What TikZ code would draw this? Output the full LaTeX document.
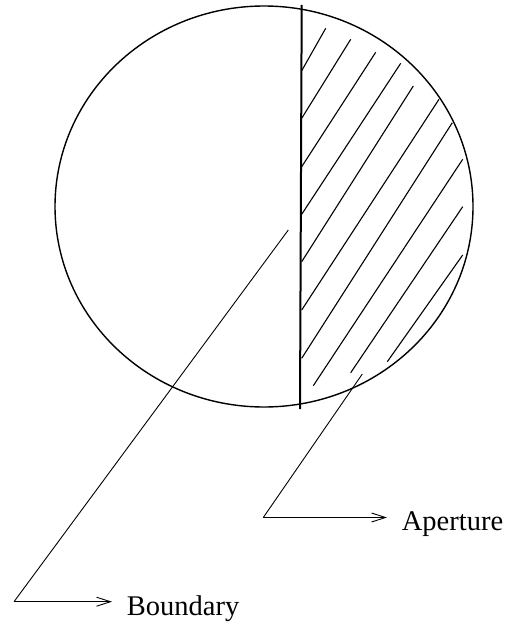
\documentclass[tikz,border=0pt]{standalone}
\usepackage{fontspec}
\setmainfont{Liberation Serif}
\usetikzlibrary{arrows.meta}
\begin{document}
\begin{tikzpicture}[x=1pt,y=-1pt,
  outline/.style={line width=1.4pt},
  divider/.style={line width=2pt},
  hatchline/.style={line width=1.1pt},
  leader/.style={line width=0.9pt},
  pointer/.style={line width=0.9pt,-{Straight Barb[length=14pt,width=9pt]}},
  lbl/.style={font=\fontsize{28.5}{30}\selectfont,anchor=base west,inner sep=0pt}]
\useasboundingbox (0,0) rectangle (507,626);
\draw[outline] (264,206.5) ellipse [x radius=209, y radius=200.5];
\draw[divider] (301.7,5) -- (300,409);
\foreach \a/\b/\c/\d in {301.7/70.7/325.7/28.3, 301.7/118.3/350.7/39.3,
  301.7/166.7/375.7/52.3, 301.7/214.3/400.7/63.3, 301.7/261.7/413.3/86,
  301.7/310/439/99.3, 301.7/358.3/452.3/122.7, 313.3/385.7/462.7/159.3,
  350.7/372.7/462.7/206.7, 387.3/361.7/462.7/255}
  \draw[hatchline] (\a,\b) -- (\c,\d);
\coordinate (bstart) at (288.3,230);
\coordinate (bcorner) at (14,601.7);
\coordinate (btip) at (112,601.7);
\node[lbl] (boundary) at (126.7,615) {Boundary};
\coordinate (astart) at (362.3,374);
\coordinate (acorner) at (263.3,517.5);
\coordinate (atip) at (387,517.5);
\node[lbl] (aperture) at (401.7,530.7) {Aperture};
\draw[leader] (bstart) -- (bcorner);
\draw[pointer] (bcorner) -- (btip);
\draw[leader] (astart) -- (acorner);
\draw[pointer] (acorner) -- (atip);
\end{tikzpicture}
\end{document}
